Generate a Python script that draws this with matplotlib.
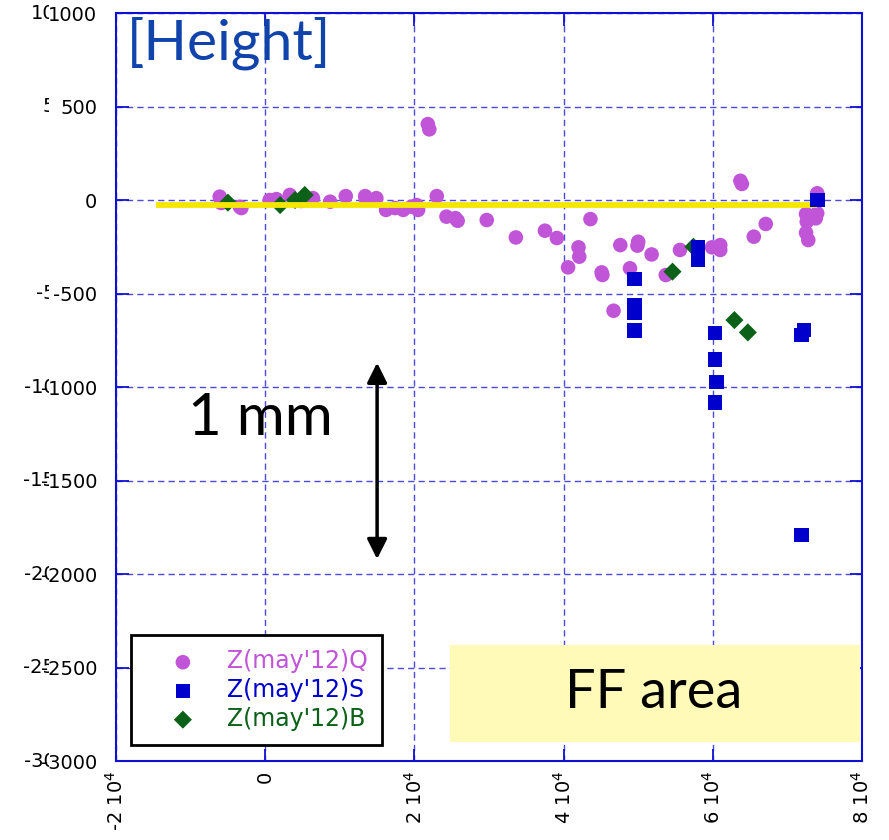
import numpy as np
import matplotlib
matplotlib.use('Agg')
import matplotlib.pyplot as plt
from matplotlib import transforms
from matplotlib.transforms import Bbox
from matplotlib.patches import Rectangle

### data: position (um) vs height (um)
q_x = [-6100, -5900, -3400, -3200, 600, 1500, 3300, 4800, 6400, 8700, 10800, 13400,
       13500, 14900, 16200, 17400, 18500, 19600, 20300, 20500, 21800, 22000, 23000,
       24300, 25500, 25800, 29700, 33600, 37500, 39100, 40600, 42000, 42100, 43600,
       45100, 45200, 46700, 47600, 48900, 50000, 49900, 51800, 53700, 55600, 59900,
       61000, 61000, 63700, 63900, 65500, 67100, 72500, 72600, 73800, 74000, 74000,
       72500, 72800]
q_y = [18, -16, -36, -43, 0, 5, 27, -5, 10, -9, 21, 21,
       5, 10, -53, -43, -53, -36, -27, -53, 406, 378, 21,
       -89, -97, -111, -107, -200, -164, -203, -360, -253, -303, -102,
       -387, -401, -592, -241, -365, -223, -244, -291, -401, -267, -253,
       -241, -267, 103, 86, -196, -128, -75, -116, -98, -71, 36,
       -175, -214]

s_x = [49500, 49500, 49500, 49500, 58000, 58000, 58000, 60300, 60300, 60500, 60300,
       72200, 71900, 71900, 74000]
s_y = [-422, -561, -604, -699, -253, -294, -321, -710, -852, -972, -1084,
       -695, -722, -1792, 0]

b_x = [-5000, 2000, 4000, 5300, 54600, 57400, 62900, 64700]
b_y = [-14, -27, 0, 27, -383, -250, -642, -708]

ref_x = [-14600, 74000]
ref_y = [-28, -28]

yticks = [1000, 500, 0, -500, -1000, -1500, -2000, -2500, -3000]
xticks = [-20000, 0, 20000, 40000, 60000, 80000]
xlabels = ['-2 10$^{4}$', '0', '2 10$^{4}$', '4 10$^{4}$', '6 10$^{4}$', '8 10$^{4}$']

c_q = '#C055D8'
c_s = '#0000CC'
c_b = '#0B6118'
c_axis = '#1010D0'

fig = plt.figure(figsize=(8.89, 8.4), dpi=100)
ax = fig.add_axes([0.1305, 0.094, 0.8391, 0.8905])

ax.scatter(q_x, q_y, s=110, marker='o', color=c_q, edgecolors='none', zorder=3, label="Z(may'12)Q")
ax.scatter(b_x, b_y, s=85, marker='D', color=c_b, edgecolors='none', zorder=4, label="Z(may'12)B")
ax.plot(ref_x, ref_y, color='#F5E600', lw=4.2, zorder=5, solid_capstyle='butt')
ax.scatter(s_x, s_y, s=110, marker='s', color=c_s, edgecolors='none', zorder=6, label="Z(may'12)S")

ax.set_xlim(-20000, 80000)
ax.set_ylim(-3000, 1000)
ax.set_xticks(xticks)
ax.set_xticklabels(xlabels, rotation=90, va='top', ha='center')
ax.set_yticks(yticks)
ax.set_yticklabels([str(v) for v in yticks])
ax.tick_params(direction='in', length=9, width=1.3, color=c_axis, labelsize=14,
               top=True, right=True)
ax.tick_params(axis='y', pad=13.5)
ax.tick_params(axis='x', pad=7)
for sp in ax.spines.values():
    sp.set_color(c_axis)
    sp.set_linewidth(1.5)
ax.grid(True, color='#2a2ad8', alpha=0.85, lw=1.0, ls=(0, (4.5, 3)))
ax.set_axisbelow(True)

# leftover labels peeking out at the far left
blend = transforms.blended_transform_factory(fig.transFigure, ax.transData)
clip = Bbox.from_extents(0, 0, 49, 840)
for v in yticks:
    t = fig.text(80 / 889, v, str(v), transform=blend, ha='right', va='center',
                 fontsize=14, clip_on=True)
    t.set_clip_box(clip)

ax.text(0.015, 0.995, '[Height]', transform=ax.transAxes, fontsize=41, family='Lato',
        color='#1144AA', ha='left', va='top')

ax.annotate('', xy=(15000, -870), xytext=(15000, -1920),
            arrowprops=dict(arrowstyle='<|-|>', color='black', lw=2.5, mutation_scale=30,
                            shrinkA=0, shrinkB=0), zorder=7)
ax.text(-700, -1166, '1 mm', fontsize=42, family='Lato', ha='center', va='center')

# FF area label box
ax.add_patch(Rectangle((0.448, 0.0254), 0.549, 0.1297, transform=ax.transAxes,
                       facecolor='#FFFAB8', edgecolor='none', zorder=6))
ax.text(0.721, 0.091, 'FF area', transform=ax.transAxes, fontsize=39, family='Lato',
        ha='center', va='center', zorder=7)

h, l = ax.get_legend_handles_labels()
order = [0, 2, 1]
leg = ax.legend([h[i] for i in order], [l[i] for i in order], loc='lower left',
                bbox_to_anchor=(0.02, 0.0214), borderaxespad=0, fontsize=17, frameon=True,
                fancybox=False, framealpha=1, edgecolor='black', borderpad=0.6,
                labelspacing=0.2, handlelength=3.2, handletextpad=0.25)
leg.get_frame().set_linewidth(2)
for txt, col in zip(leg.get_texts(), [c_q, c_s, c_b]):
    txt.set_color(col)

plt.savefig('out.png', dpi=100)
